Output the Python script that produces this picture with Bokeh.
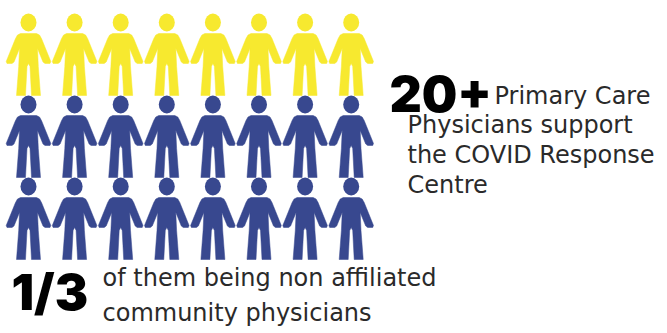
from bokeh.core.properties import value
from bokeh.embed import file_html
from bokeh.models import ColumnDataSource, Range1d
from bokeh.plotting import figure
from bokeh.resources import INLINE

# Pictogram: one figure per physician, rows listed from top to bottom
row_groups = ["non_affiliated", "affiliated", "affiliated"]
people_per_row = 8
group_colors = {"non_affiliated": "#F7E92F", "affiliated": "#38488F"}

# Layout of the grid in page pixels
first_x, step_x = 28, 46.1
first_y, step_y = 22, 82

# Figure outline, relative to the centre of the head
half_outline = [
    (0.0, 41), (1.5, 44), (3.0, 73), (12.0, 73), (9.8, 44), (9.0, 26),
    (14.5, 39.5), (16.5, 41), (21.5, 41), (22.3, 39), (13.0, 16),
    (11.0, 12.5), (8.0, 11), (0.0, 11),
]
outline_x = [x for x, _ in half_outline] + [-x for x, _ in reversed(half_outline)]
outline_y = [y for _, y in half_outline] + [y for _, y in reversed(half_outline)]

# Annotations: text, x, y anchor, size
big_labels = [("20+", 389, 93, 50), ("1/3", 11, 291, 50)]
small_labels = [
    ("Primary Care", 494, 95, 24),
    ("Physicians support", 407, 124, 24),
    ("the COVID Response", 407, 154, 24),
    ("Centre", 407, 184, 24),
    ("of them being non affiliated", 102, 277, 24),
    ("community physicians", 102, 312, 24),
]

p = figure(
    width=667, height=333, output_backend="svg", toolbar_location=None,
    x_range=Range1d(0, 667), y_range=Range1d(333, 0),
    min_border=0, background_fill_color="white", border_fill_color="white",
)
p.axis.visible = False
p.grid.visible = False
p.outline_line_color = None

xs, ys, heads_x, heads_y, colors = [], [], [], [], []
for row, group in enumerate(row_groups):
    for col in range(people_per_row):
        cx = first_x + col * step_x
        cy = first_y + row * step_y
        xs.append([cx + dx for dx in outline_x])
        ys.append([cy + dy for dy in outline_y])
        heads_x.append(cx)
        heads_y.append(cy)
        colors.append(group_colors[group])

p.patches(xs, ys, fill_color=colors, line_color=colors, line_width=0.5, line_join="round")
p.ellipse(heads_x, heads_y, width=16, height=18, fill_color=colors, line_color=None)

for labels, font, style, color in (
    (big_labels, "Inter Black", "bold", "#000000"),
    (small_labels, "DejaVu Sans", "normal", "#2a2a2a"),
):
    src = ColumnDataSource(dict(
        text=[l[0] for l in labels], x=[l[1] for l in labels], y=[l[2] for l in labels],
        size=[f"{l[3]}px" for l in labels],
    ))
    p.text("x", "y", text="text", source=src, text_font=value(font), text_font_size="size",
           text_font_style=style, text_color=color, text_align="left", text_baseline="alphabetic")

open("out.html", "w").write(file_html(p, INLINE))
